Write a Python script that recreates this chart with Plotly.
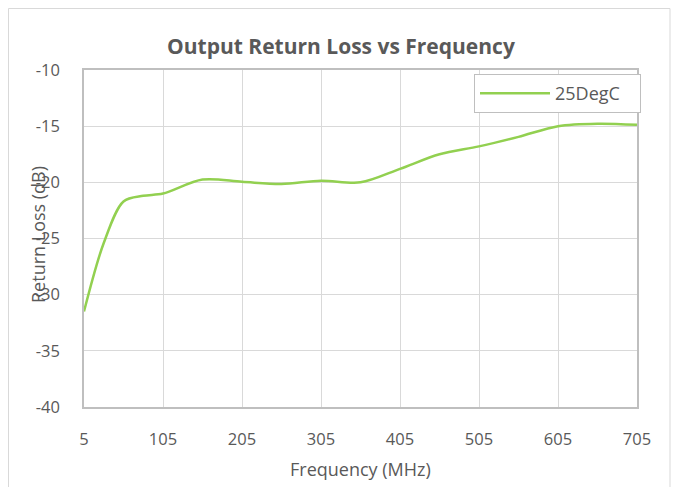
import plotly.graph_objects as go

freq_mhz = [5, 30, 55, 80, 105, 155, 205, 255, 305, 355, 405, 455, 505, 555, 605, 655, 705]
return_loss_db = [-31.5, -25.4, -21.7, -21.2, -21.0, -19.75, -19.95, -20.15, -19.85, -20.0,
                  -18.8, -17.5, -16.8, -15.95, -15.0, -14.78, -14.88]
series_name = "25DegC"
x_ticks = [5, 105, 205, 305, 405, 505, 605, 705]
y_ticks = [-10, -15, -20, -25, -30, -35, -40]

OFF = 8  # page body margin of the browser
W, H = 681 - OFF, 487 - OFF
L, R, T, B = 84 - OFF, 637 - OFF, 70 - OFF, 407 - OFF
pw, ph = R - L, B - T


def px_x(p):
    return (p - OFF - L) / pw


def px_y(p):
    return (B - (p - OFF)) / ph


txt = "#595959"
font = "Open Sans"

fig = go.Figure()
fig.add_trace(go.Scatter(
    x=freq_mhz, y=return_loss_db, name=series_name, mode="lines",
    line=dict(color="#92d050", width=2.5, shape="spline", smoothing=0.9),
    showlegend=True,
))

fig.update_layout(
    width=W, height=H,
    margin=dict(l=L, r=W - R, t=T, b=H - B, autoexpand=False),
    paper_bgcolor="white", plot_bgcolor="white",
    font=dict(family=font, size=16.5, color=txt),
    showlegend=True,
    legend=dict(
        x=px_x(474), xanchor="left", y=px_y(74), yanchor="top",
        orientation="h", entrywidth=80, entrywidthmode="pixels",
        bordercolor="#bfbfbf", borderwidth=1, bgcolor="white",
        font=dict(size=18, color=txt), itemwidth=70,
    ),
    xaxis=dict(
        range=[5, 705], tickvals=x_ticks, ticktext=[str(v) for v in x_ticks],
        tickfont=dict(size=16.5),
        showgrid=True, gridcolor="#d9d9d9", gridwidth=1.3,
        showline=True, linecolor="#bfbfbf", linewidth=1.5, mirror=True,
        zeroline=False, ticks="", ticklabelstandoff=16,
    ),
    yaxis=dict(
        range=[-40, -10], tickvals=y_ticks, ticktext=[str(v) for v in y_ticks],
        tickfont=dict(size=16.5),
        showgrid=True, gridcolor="#d9d9d9", gridwidth=1.3,
        showline=True, linecolor="#bfbfbf", linewidth=1.5, mirror=True,
        zeroline=False, ticks="", ticklabelstandoff=19,
    ),
    shapes=[dict(
        type="rect", xref="paper", yref="paper",
        x0=px_x(8.5), x1=px_x(670), y0=px_y(500), y1=px_y(8.5),
        line=dict(color="#d9d9d9", width=1), layer="below",
    )],
    annotations=[
        dict(text="<b>Output Return Loss vs Frequency</b>", xref="paper", yref="paper",
             x=px_x(341), y=px_y(46), xanchor="center", yanchor="middle",
             showarrow=False, font=dict(size=21, color=txt, family=font)),
        dict(text="Return Loss (dB)", xref="paper", yref="paper",
             x=px_x(38), y=px_y(235), xanchor="center", yanchor="middle",
             textangle=-90, showarrow=False, font=dict(size=18, color=txt, family=font)),
        dict(text="Frequency (MHz)", xref="paper", yref="paper",
             x=px_x(360), y=px_y(469), xanchor="center", yanchor="middle",
             showarrow=False, font=dict(size=18, color=txt, family=font)),
    ],
)

fig.write_html("out.html")
